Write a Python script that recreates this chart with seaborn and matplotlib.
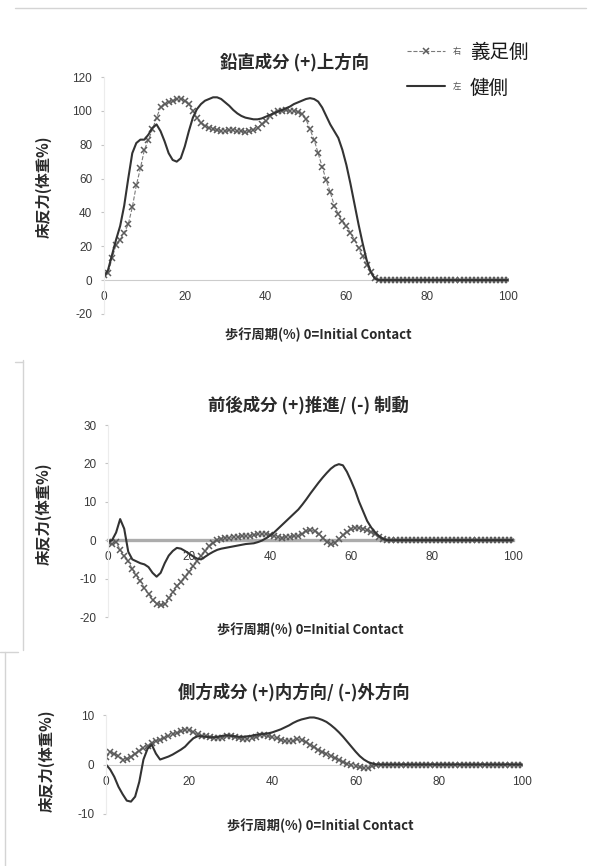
import numpy as np
import pandas as pd
import seaborn as sns
import matplotlib
matplotlib.use("Agg")
import matplotlib.pyplot as plt
from matplotlib.lines import Line2D

# 歩行周期 0..100 %
pct = list(range(101))

# 鉛直成分 (体重%)
vert_pros = [3, 4, 13, 21, 24, 28, 33, 43, 56, 66,
             77, 83, 89, 96, 102, 104, 105, 106, 107, 107,
             106, 104, 100, 96, 93, 91, 90, 89, 88.5, 88,
             88, 88.5, 88.5, 88, 88, 87.5, 88, 88.5, 90, 92,
             94, 97, 99, 100, 100, 100.5, 100, 100, 99.5, 98,
             95, 89, 83, 75, 67, 59, 52, 44, 39, 35,
             32, 28, 24, 19, 14, 9, 5, 1.5, 0, 0,
             0, 0, 0, 0, 0, 0, 0, 0, 0, 0,
             0, 0, 0, 0, 0, 0, 0, 0, 0, 0,
             0, 0, 0, 0, 0, 0, 0, 0, 0, 0,
             0]
vert_sound = [2, 6, 15, 24, 32, 44, 60, 75, 81, 83,
              83, 86, 90, 92, 88, 82, 75, 71, 70, 72,
              79, 88, 96, 101, 104, 106, 107, 108, 108, 107,
              105, 103, 100.5, 98.5, 97, 96, 95.5, 95, 95, 95.5,
              96.5, 97.5, 98.5, 99.5, 100.5, 101.5, 102.5, 104, 105, 106,
              107, 107.5, 107, 105.5, 102, 97, 92, 88, 84, 77,
              68, 57, 45, 33, 22, 12, 5, 1, 0, 0,
              0, 0, 0, 0, 0, 0, 0, 0, 0, 0,
              0, 0, 0, 0, 0, 0, 0, 0, 0, 0,
              0, 0, 0, 0, 0, 0, 0, 0, 0, 0,
              0]

# 前後成分 (体重%)
ap_pros = [-0.5, -1, -0.5, -2.5, -4, -5.5, -7.5, -9, -10.5, -12.5,
           -14, -15.5, -16.5, -17, -16.5, -15, -13.5, -12, -10.8, -9.6,
           -8.3, -6.8, -5.3, -4, -2.8, -1.6, -0.6, 0.1, 0.4, 0.6,
           0.7, 0.8, 0.9, 1.0, 1.1, 1.2, 1.4, 1.5, 1.6, 1.6,
           1.4, 1.1, 0.9, 0.7, 0.8, 0.9, 1.0, 1.2, 1.7, 2.3,
           2.7, 2.3, 1.5, 0.5, -0.4, -0.9, -0.6, 0.3, 1.3, 2.2,
           2.8, 3.2, 3.2, 3.0, 2.6, 2.1, 1.5, 0.9, 0.4, 0.1,
           0, 0, 0, 0, 0, 0, 0, 0, 0, 0,
           0, 0, 0, 0, 0, 0, 0, 0, 0, 0,
           0, 0, 0, 0, 0, 0, 0, 0, 0, 0,
           0]
ap_sound = [-0.5, 0, 2, 5.5, 3, -3, -5, -5.5, -6, -6.3,
            -7, -8.5, -9.5, -8.5, -6, -4, -2.8, -2, -2.2, -2.8,
            -3.5, -4.2, -4.8, -5, -4.3, -3.6, -3, -2.5, -2.2, -2,
            -1.8, -1.6, -1.4, -1.2, -1.0, -0.9, -0.8, -0.5, -0.1, 0.5,
            1.2, 2, 3, 4, 5, 6, 7, 8, 9.3, 10.7,
            12.2, 13.6, 15, 16.3, 17.5, 18.6, 19.4, 19.8, 19.5, 17.8,
            15.5, 13, 10, 7.5, 5, 3.3, 2, 1, 0.3, 0,
            0, 0, 0, 0, 0, 0, 0, 0, 0, 0,
            0, 0, 0, 0, 0, 0, 0, 0, 0, 0,
            0, 0, 0, 0, 0, 0, 0, 0, 0, 0,
            0]

# 側方成分 (体重%)
ml_pros = [1.5, 2.5, 2.2, 1.8, 1.0, 1.2, 1.6, 2.2, 2.8, 3.3,
           3.8, 4.3, 4.7, 5.0, 5.4, 5.8, 6.1, 6.4, 6.7, 7.0,
           6.9, 6.5, 6.1, 5.8, 5.7, 5.6, 5.4, 5.3, 5.4, 5.7,
           5.8, 5.6, 5.3, 5.1, 5.2, 5.4, 5.6, 5.9, 6.0, 5.8,
           5.5, 5.3, 5.0, 4.8, 4.7, 4.8, 5.1, 4.9, 4.5, 4.0,
           3.5, 3.0, 2.6, 2.2, 1.8, 1.3, 0.9, 0.5, 0.1, -0.2,
           -0.4, -0.6, -0.7, -0.7, -0.4, -0.1, 0, 0, 0, 0,
           0, 0, 0, 0, 0, 0, 0, 0, 0, 0,
           0, 0, 0, 0, 0, 0, 0, 0, 0, 0,
           0, 0, 0, 0, 0, 0, 0, 0, 0, 0,
           0]
ml_sound = [0, -1, -2.5, -4.5, -6, -7.3, -7.5, -6.5, -3.5, 1,
            3.2, 4, 2.2, 1.0, 1.3, 1.6, 2, 2.5, 3, 3.6,
            4.5, 5.3, 5.7, 5.7, 5.6, 5.5, 5.5, 5.6, 5.8, 5.9,
            5.8, 5.7, 5.6, 5.6, 5.7, 5.8, 6, 6.1, 6.2, 6.3,
            6.5, 6.8, 7.1, 7.5, 7.9, 8.4, 8.8, 9.1, 9.3, 9.5,
            9.5, 9.3, 9, 8.6, 8, 7.3, 6.5, 5.6, 4.6, 3.6,
            2.6, 1.7, 1, 0.5, 0.2, 0, 0, 0, 0, 0,
            0, 0, 0, 0, 0, 0, 0, 0, 0, 0,
            0, 0, 0, 0, 0, 0, 0, 0, 0, 0,
            0, 0, 0, 0, 0, 0, 0, 0, 0, 0,
            0]

titles = ['鉛直成分 (+)上方向', '前後成分 (+)推進/ (-) 制動', '側方成分 (+)内方向/ (-)外方向']
xlabel = '歩行周期(%) 0=Initial Contact'
ylabel = '床反力(体重%)'

sns.set_theme(style="white")
plt.rcParams['font.family'] = ['Noto Sans CJK JP', 'DejaVu Sans']
plt.rcParams['axes.unicode_minus'] = False

W, H = 589, 866
fig = plt.figure(figsize=(W / 100, H / 100), dpi=100)


def fx(px):
    return px / W


def fy(py):
    return 1 - py / H


# 各グラフの位置 (ピクセル: 左, 上, 右, 下)
boxes = [(104, 77, 508, 314), (108, 425, 513, 617), (106, 715, 522, 814)]
ylims = [(-20, 120), (-20, 30), (-10, 10)]
ysteps = [20, 10, 10]
datasets = [(vert_pros, vert_sound), (ap_pros, ap_sound), (ml_pros, ml_sound)]
title_pos = [(295, 62), (308, 405), (294, 692)]
xlab_pos = [(318, 335), (310, 630), (320, 826)]
ylab_pos = [(44, 187), (44, 514), (47, 761)]

axes = []
for i, (l, t, r, b) in enumerate(boxes):
    ax = fig.add_axes([fx(l), fy(b), fx(r) - fx(l), (b - t) / H])
    pros, sound = datasets[i]
    df = pd.DataFrame({'pct': pct, 'pros': pros, 'sound': sound})
    sns.lineplot(data=df, x='pct', y='pros', ax=ax, color='#7a7a7a', lw=0.8,
                 linestyle='--', marker='x', markersize=5, markeredgewidth=1.1,
                 markeredgecolor='#5c5c5c', label='右')
    sns.lineplot(data=df, x='pct', y='sound', ax=ax, color='#333333', lw=1.5,
                 label='左')
    ax.set_xlim(0, 100)
    ax.set_ylim(*ylims[i])
    ax.set_xticks(range(0, 101, 20))
    ax.set_yticks(range(ylims[i][0], ylims[i][1] + 1, ysteps[i]))
    ax.set_xlabel('')
    ax.set_ylabel('')
    ax.patch.set_alpha(0)
    for s in ['top', 'right']:
        ax.spines[s].set_visible(False)
    ax.spines['bottom'].set_position(('data', 0))
    ax.spines['left'].set_color('#ececec')
    ax.spines['left'].set_linewidth(0.8)
    if i == 1:
        ax.spines['bottom'].set_color('#acacac')
        ax.spines['bottom'].set_linewidth(2.4)
    else:
        ax.spines['bottom'].set_color('#cccccc')
        ax.spines['bottom'].set_linewidth(0.8)
    ax.spines['bottom'].set_zorder(0.5)
    ax.tick_params(axis='x', length=0, pad=8, labelsize=8.5, labelcolor='#3a3a3a',
                   labelfontfamily='Liberation Sans')
    ax.tick_params(axis='y', length=2.5, width=0.8, color='#c4c4c4', direction='out',
                   pad=6, labelsize=8.5, labelcolor='#3a3a3a',
                   labelfontfamily='Liberation Sans')
    ax.tick_params(axis='y', left=True)
    if i == 0:
        leg = ax.legend(loc='upper left', bbox_to_anchor=(fx(407), fy(47)),
                        bbox_transform=fig.transFigure, frameon=False, fontsize=6,
                        handlelength=4.6, handletextpad=0.9, labelspacing=3.1,
                        borderpad=0, borderaxespad=0, numpoints=1,
                        labelcolor='#555555')
    else:
        ax.get_legend().remove()
    axes.append(ax)

    fig.text(fx(title_pos[i][0]), fy(title_pos[i][1]), titles[i], ha='center', va='center',
             fontsize=12.5, fontweight='bold', color='#2a2a2a')
    fig.text(fx(xlab_pos[i][0]), fy(xlab_pos[i][1]), xlabel, ha='center', va='center',
             fontsize=9.5, fontweight='bold', color='#2a2a2a')
    fig.text(fx(ylab_pos[i][0]), fy(ylab_pos[i][1]), ylabel, ha='center', va='center',
             rotation=90, fontsize=11, fontweight='bold', color='#2a2a2a')

# 凡例の説明
fig.text(fx(470), fy(52), '義足側', ha='left', va='center', fontsize=14, color='#1a1a1a')
fig.text(fx(470), fy(88), '健側', ha='left', va='center', fontsize=14, color='#1a1a1a')

# スキャン画像の枠線
frame = '#d4d4d4'
fig.add_artist(Line2D([fx(15), fx(586)], [fy(8), fy(8)], color=frame, lw=1))
fig.add_artist(Line2D([fx(23), fx(23)], [fy(360), fy(650)], color=frame, lw=1))
fig.add_artist(Line2D([fx(15), fx(23)], [fy(362), fy(362)], color=frame, lw=1))
fig.add_artist(Line2D([fx(5), fx(5)], [fy(652), fy(866)], color=frame, lw=1))
fig.add_artist(Line2D([fx(0), fx(18)], [fy(652), fy(652)], color=frame, lw=1))

fig.savefig('out.png', dpi=100)
